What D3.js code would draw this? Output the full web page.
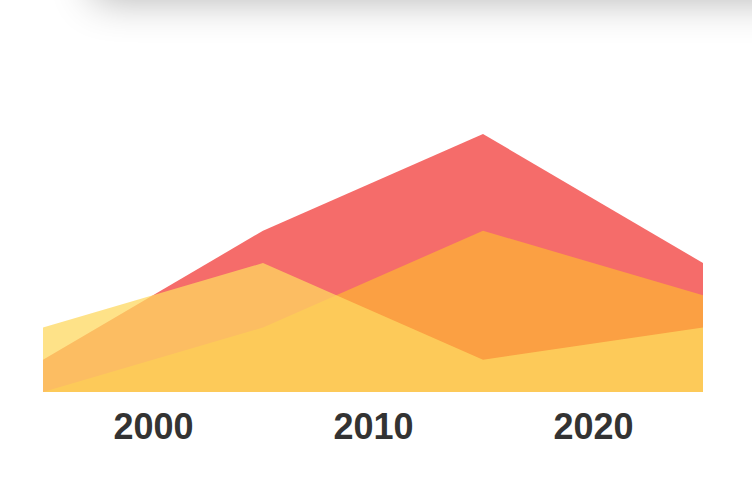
<!DOCTYPE html>
<html>
<head>
<meta charset="utf-8">
<script src="https://cdn.jsdelivr.net/npm/d3@7/dist/d3.min.js"></script>
<style>
  html, body { margin: 0; padding: 0; background: #fff; overflow: hidden; }
  body { width: 752px; height: 482px; position: relative; }
  #card { position: absolute; left: 92px; width: 760px; top: -100px; height: 100px;
          background: #fff; border-radius: 12px; box-shadow: 0 0 40px rgba(0,0,0,0.3); }
  svg { position: absolute; left: 0; top: 0; }
</style>
</head>
<body>
<div id="card"></div>
<svg id="chart" width="752" height="482"></svg>
<script>
const years = [1995, 2005, 2015, 2025];
const redValues = [1, 5, 8, 4];
const orangeValues = [0, 2, 5, 3];
const yellowValues = [2, 4, 1, 2];
const tickYears = [2000, 2010, 2020];
const tickLabels = ["2000", "2010", "2020"];

const series = [
  { name: "red", values: redValues, color: "#f56c6a", opacity: 1 },
  { name: "orange", values: orangeValues, color: "#fba043", opacity: 1 },
  { name: "yellow", values: yellowValues, color: "rgb(254,216,96)", opacity: 0.75 }
];

const svg = d3.select("#chart");
const margin = { left: 43, right: 49, top: 70, bottom: 90 };
const width = 752, height = 482;

const x = d3.scaleLinear().domain([1995, 2025]).range([margin.left, width - margin.right]);
const y = d3.scaleLinear().domain([0, 10]).range([height - margin.bottom, height - margin.bottom - 322.5]);

const area = d3.area()
  .x((d, i) => x(years[i]))
  .y0(y(0))
  .y1(d => y(d));

svg.selectAll("path.area")
  .data(series)
  .enter().append("path")
  .attr("class", "area")
  .attr("d", d => area(d.values))
  .attr("fill", d => d.color)
  .attr("fill-opacity", d => d.opacity);

const axis = d3.axisBottom(x)
  .tickValues(tickYears)
  .tickFormat((d, i) => tickLabels[i])
  .tickSize(0)
  .tickPadding(21);

const g = svg.append("g")
  .attr("transform", `translate(0,${y(0)})`)
  .call(axis);
g.select(".domain").remove();
g.selectAll("text")
  .attr("fill", "#333")
  .attr("font-family", "'Liberation Sans', Arial, Helvetica, sans-serif")
  .attr("font-weight", "bold")
  .attr("font-size", "36px");
</script>
</body>
</html>
